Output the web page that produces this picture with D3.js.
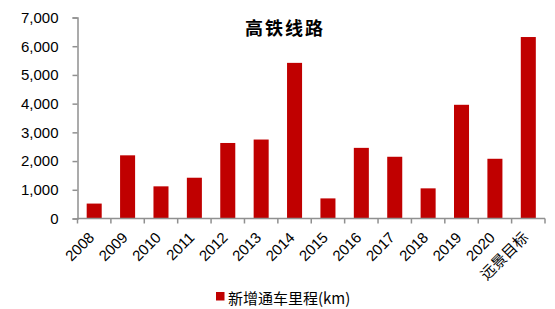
<!DOCTYPE html>
<html>
<head>
<meta charset="utf-8">
<script src="https://cdn.jsdelivr.net/npm/d3@7"></script>
<style>
  body { margin: 0; background: #fff; }
  svg { display: block; }
</style>
</head>
<body>
<svg width="555" height="309"></svg>
<script>
const categories = ["2008", "2009", "2010", "2011", "2012", "2013", "2014", "2015", "2016", "2017", "2018", "2019", "2020", "远景目标"];
const mileage = [520, 2200, 1120, 1420, 2630, 2750, 5420, 700, 2460, 2150, 1050, 3960, 2080, 6320];
const yTicks = [0, 1000, 2000, 3000, 4000, 5000, 6000, 7000];
const seriesName = "新增通车里程(km)";
const title = "高铁线路";

const margin = { top: 17.5, left: 77.5, right: 10, bottom: 90.5 };
const width = 545 - margin.left;
const height = 218.5 - margin.top;

const svg = d3.select("svg");
const chart = svg.append("g")
  .attr("transform", `translate(${margin.left}, ${margin.top})`);

const x = d3.scaleBand()
  .domain(categories)
  .range([0, width])
  .paddingInner(0.55)
  .paddingOuter(0.275);

const y = d3.scaleLinear()
  .domain([0, 7000])
  .range([height, 0]);

chart.selectAll("rect.bar")
  .data(categories)
  .join("rect")
  .attr("class", "bar")
  .attr("x", d => x(d))
  .attr("y", (d, i) => y(mileage[i]))
  .attr("width", x.bandwidth())
  .attr("height", (d, i) => height - y(mileage[i]))
  .attr("fill", "#c00000");

// y axis
const yAxis = chart.append("g")
  .call(d3.axisLeft(y).tickValues(yTicks).tickFormat(d3.format(",")).tickSize(5).tickPadding(14));
yAxis.select(".domain").attr("stroke", "#909090").attr("stroke-width", 1.5);
yAxis.selectAll(".tick line").attr("stroke", "#909090").attr("stroke-width", 1.5);
yAxis.selectAll("text")
  .attr("font-family", "Liberation Sans, Arial, sans-serif")
  .attr("font-size", 15)
  .attr("fill", "#000");

// x axis: ticks at category boundaries
const step = x.step();
const xg = chart.append("g").attr("transform", `translate(0, ${height})`);
xg.append("line")
  .attr("x1", 0).attr("x2", width)
  .attr("stroke", "#909090").attr("stroke-width", 1.5);
xg.selectAll("line.tk")
  .data(d3.range(categories.length + 1))
  .join("line")
  .attr("class", "tk")
  .attr("x1", i => i * step).attr("x2", i => i * step)
  .attr("y1", 0).attr("y2", 5)
  .attr("stroke", "#909090").attr("stroke-width", 1.5);

xg.selectAll("text")
  .data(categories)
  .join("text")
  .attr("transform", d => `translate(${x(d) + x.bandwidth() / 2 + 1}, 20) rotate(-45)`)
  .attr("text-anchor", "end")
  .attr("font-family", d => /\d/.test(d) ? "Liberation Sans, Arial, sans-serif" : "Noto Sans CJK SC")
  .attr("font-size", 15)
  .attr("fill", "#000")
  .text(d => d);

// title
svg.append("text")
  .attr("x", 285)
  .attr("y", 35)
  .attr("text-anchor", "middle")
  .attr("font-family", "Noto Sans CJK SC")
  .attr("font-weight", "bold")
  .attr("font-size", 18)
  .attr("letter-spacing", 2)
  .text(title);

// legend
const legend = svg.append("g").attr("transform", "translate(216, 292)");
legend.append("rect")
  .attr("width", 8.5).attr("height", 8.5)
  .attr("fill", "#c00000");
legend.append("text")
  .attr("x", 12)
  .attr("y", 12)
  .attr("font-family", "Noto Sans CJK SC")
  .attr("font-size", 15)
  .attr("fill", "#000")
  .text(seriesName);
</script>
</body>
</html>
